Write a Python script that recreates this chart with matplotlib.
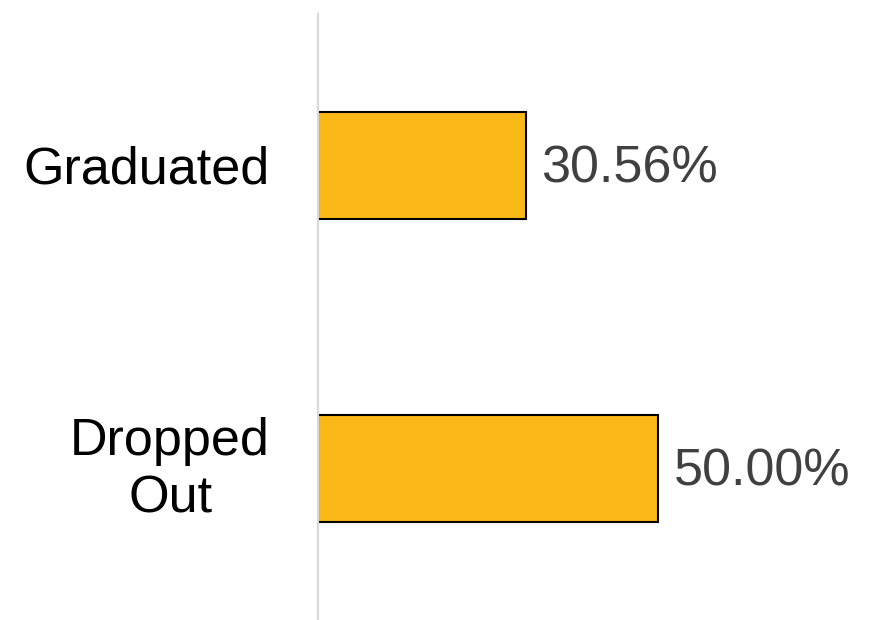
import matplotlib.pyplot as plt

categories = ["Graduated", "Dropped\nOut"]
values = [30.56, 50.00]
value_labels = ["30.56%", "50.00%"]

plt.rcParams['font.family'] = ['Liberation Sans', 'DejaVu Sans']

fig = plt.figure(figsize=(8.69, 6.2), dpi=100)
ax = fig.add_axes([318 / 869, 0, 1 - 318 / 869, 606 / 620])

bars = ax.barh(range(len(categories)), values, height=0.355,
               color='#FBB917', edgecolor='black', linewidth=1.5, zorder=2)
ax.set_ylim(1.5, -0.5)
ax.set_xlim(0, 81)

for bar, lab in zip(bars, value_labels):
    ax.text(bar.get_width() + 2.3, bar.get_y() + bar.get_height() / 2 + 0.01, lab,
            va='center', ha='left', fontsize=37.5, color='#404040')

# category labels drawn as text so the two-line one can be centred and nudged
nudge = [-3.3, -1.5]
for i, (cat, dy) in enumerate(zip(categories, nudge)):
    ax.annotate(cat, xy=(0, i), xytext=(-34.5, dy), textcoords='offset points',
                ha='right', va='center', multialignment='center',
                fontsize=37.5, linespacing=1.22, color='black',
                annotation_clip=False)

ax.set_yticks([])
ax.set_xticks([])

for s in ['top', 'right', 'bottom']:
    ax.spines[s].set_visible(False)
ax.spines['left'].set_color('#D9D9D9')
ax.spines['left'].set_linewidth(1.5)
ax.spines['left'].set_zorder(3)

fig.savefig("out.png", dpi=100)
